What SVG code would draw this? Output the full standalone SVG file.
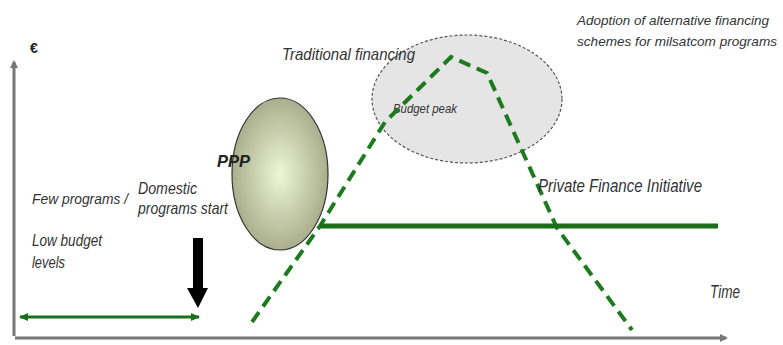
<svg xmlns="http://www.w3.org/2000/svg" width="783" height="345" viewBox="0 0 783 345">
<style>
.t{font-family:"Liberation Sans Narrow","Liberation Sans",Arial,sans-serif;font-style:italic;fill:#333;}
.axis{stroke:#777;stroke-width:3;fill:none;}
.dash{stroke:#1e7a1e;stroke-width:4;fill:none;stroke-dasharray:12 7;}
</style>
<defs>
<radialGradient id="pppGrad" cx="50%" cy="50%" r="55%">
<stop offset="0" stop-color="#eef6d6"/>
<stop offset="1" stop-color="#a3a785"/>
</radialGradient>
<marker id="axArrow" markerWidth="8" markerHeight="8" refX="6" refY="4" orient="auto" markerUnits="userSpaceOnUse">
<path d="M0,0 L8,4 L0,8 Z" fill="#777"/>
</marker>
<marker id="gArrow" markerWidth="9" markerHeight="8" refX="8" refY="4" orient="auto-start-reverse" markerUnits="userSpaceOnUse">
<path d="M0,0 L9,4 L0,8 Z" fill="#1b6f1b"/>
</marker>
</defs>
<rect width="783" height="345" fill="#fff"/>
<g id="axes">
<line class="axis" x1="14" y1="336" x2="14" y2="62" marker-end="url(#axArrow)"/>
<line class="axis" x1="15" y1="338" x2="726" y2="338" marker-end="url(#axArrow)"/>
<text x="30" y="53" font-size="14" font-weight="bold" font-family="Liberation Sans, Arial, sans-serif" fill="#222">€</text>
<text class="t" x="710" y="298" font-size="18" textLength="30" lengthAdjust="spacingAndGlyphs">Time</text>
</g>
<g id="budget-peak">
<ellipse cx="467" cy="99" rx="95" ry="64" fill="#e5e5e5" stroke="#555" stroke-width="1.2" stroke-dasharray="3 2"/>
<text class="t" x="393" y="113" font-size="13" textLength="64" lengthAdjust="spacingAndGlyphs">Budget peak</text>
</g>
<g id="ppp">
<ellipse cx="280" cy="174" rx="48" ry="76" fill="url(#pppGrad)" stroke="#333" stroke-width="1.2"/>
<text class="t" x="217" y="167" font-size="17" font-weight="bold" style="fill:#222" textLength="33" lengthAdjust="spacingAndGlyphs">PPP</text>
</g>
<g id="connectors">
<polyline class="dash" points="252,322 320,226 385,122 451,57 487,73 557,228 632,330"/>
<line x1="320" y1="226" x2="718" y2="226" stroke="#1b6f1b" stroke-width="5"/>
<line x1="20" y1="317" x2="199" y2="317" stroke="#1b6f1b" stroke-width="3" marker-start="url(#gArrow)" marker-end="url(#gArrow)"/>
<path d="M193,238 L203,238 L203,288 L208,288 L198,308 L187,288 L193,288 Z" fill="#000"/>
</g>
<g id="labels">
<text class="t" x="282" y="60" font-size="17" textLength="133" lengthAdjust="spacingAndGlyphs">Traditional financing</text>
<text class="t" x="577" y="25" font-size="13.5" textLength="192" lengthAdjust="spacingAndGlyphs">Adoption of alternative financing</text>
<text class="t" x="577" y="46" font-size="13.5" textLength="200" lengthAdjust="spacingAndGlyphs">schemes for milsatcom programs</text>
<text class="t" x="538" y="192" font-size="18" textLength="164" lengthAdjust="spacingAndGlyphs">Private Finance Initiative</text>
<text class="t" x="32" y="204" font-size="15.5" textLength="96" lengthAdjust="spacingAndGlyphs">Few programs /</text>
<text class="t" x="32" y="246" font-size="17" textLength="70" lengthAdjust="spacingAndGlyphs">Low budget</text>
<text class="t" x="32" y="268" font-size="17" textLength="33" lengthAdjust="spacingAndGlyphs">levels</text>
<text class="t" x="138" y="194" font-size="17" textLength="59" lengthAdjust="spacingAndGlyphs">Domestic</text>
<text class="t" x="138" y="214" font-size="17" textLength="90" lengthAdjust="spacingAndGlyphs">programs start</text>
</g>
</svg>
